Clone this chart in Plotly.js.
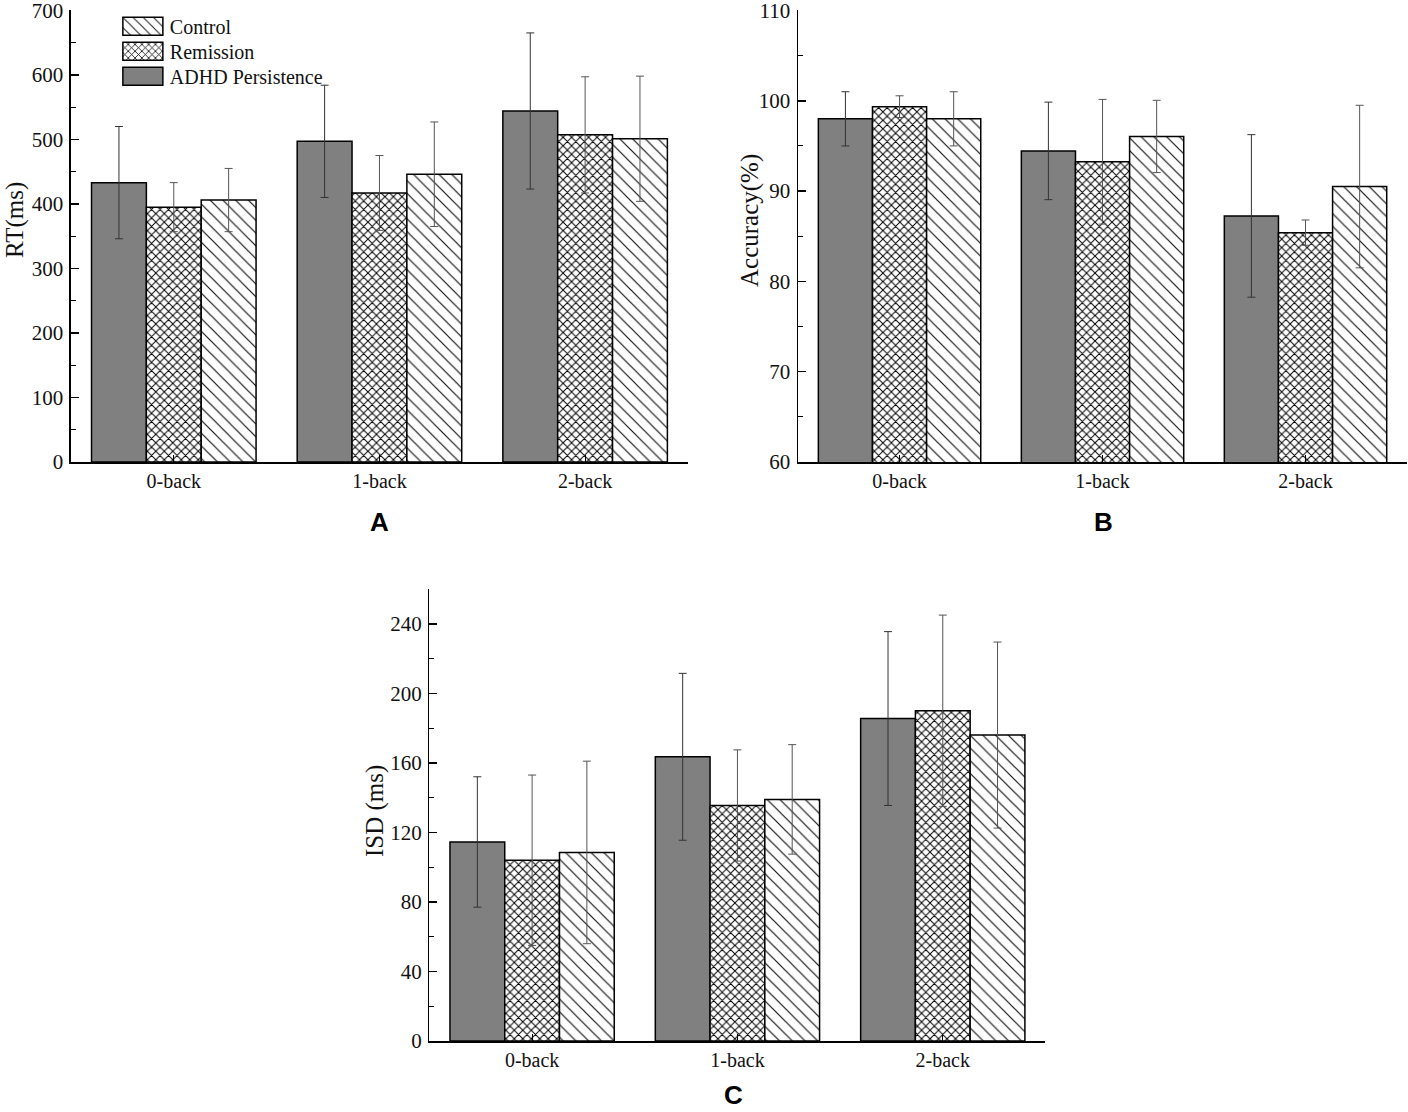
<!DOCTYPE html>
<html>
<head>
<meta charset="utf-8">
<script src="https://cdn.plot.ly/plotly-3.0.1.min.js"></script>
<style>
  html, body { margin: 0; padding: 0; background: #fff; }
  #chart { width: 1408px; height: 1112px; }
</style>
</head>
<body>
<div id="chart"></div>
<script>
var categories = ['0-back', '1-back', '2-back'];
var groupNames = ['ADHD Persistence', 'Remission', 'Control'];

// A: reaction time (ms)
var rtAdhd = [433, 497, 544];
var rtAdhdErr = [87, 87, 121];
var rtRem = [395, 417, 507];
var rtRemErr = [38, 58, 90];
var rtCtrl = [406, 446, 501];
var rtCtrlErr = [49, 81, 97];

// B: accuracy (%)
var accAdhd = [98.0, 94.45, 87.25];
var accAdhdErr = [3.0, 5.4, 9.0];
var accRem = [99.35, 93.25, 85.4];
var accRemErr = [1.2, 6.9, 1.4];
var accCtrl = [98.0, 96.05, 90.5];
var accCtrlErr = [3.0, 4.0, 9.0];

// C: ISD (ms)
var isdAdhd = [114.5, 163.5, 185.5];
var isdAdhdErr = [37.5, 48, 50];
var isdRem = [104, 135.5, 190];
var isdRemErr = [49, 32, 55];
var isdCtrl = [108.5, 139, 176];
var isdCtrlErr = [52.5, 31.5, 53.5];

var serif = "'Times New Roman', 'Liberation Serif', serif";

var looks = [
  { color: '#808080', pattern: { shape: '' }, err: '#333' },
  { color: '#ffffff', pattern: { shape: 'x', fgcolor: '#000', bgcolor: '#fff', size: 6, solidity: 0.3 }, err: '#555' },
  { color: '#ffffff', pattern: { shape: '\\', fgcolor: '#111', bgcolor: '#fff', size: 9, solidity: 0.13 }, err: '#555' }
];

function bars(values, errs, i, xa, ya, legend) {
  return {
    type: 'bar',
    name: groupNames[i],
    x: categories,
    y: values,
    xaxis: xa,
    yaxis: ya,
    showlegend: legend,
    legendgroup: groupNames[i],
    marker: {
      color: looks[i].color,
      pattern: looks[i].pattern,
      line: { color: '#000', width: 1.5 }
    },
    error_y: { type: 'data', array: errs, visible: true, color: looks[i].err, thickness: 1, width: 4 },
    hoverinfo: 'x+y'
  };
}

var data = [
  bars(rtAdhd, rtAdhdErr, 0, 'x', 'y', true),
  bars(rtRem, rtRemErr, 1, 'x', 'y', true),
  bars(rtCtrl, rtCtrlErr, 2, 'x', 'y', true),
  bars(accAdhd, accAdhdErr, 0, 'x2', 'y2', false),
  bars(accRem, accRemErr, 1, 'x2', 'y2', false),
  bars(accCtrl, accCtrlErr, 2, 'x2', 'y2', false),
  bars(isdAdhd, isdAdhdErr, 0, 'x3', 'y3', false),
  bars(isdRem, isdRemErr, 1, 'x3', 'y3', false),
  bars(isdCtrl, isdCtrlErr, 2, 'x3', 'y3', false)
];

function xAxis(dom, yname) {
  return {
    domain: dom, anchor: yname, type: 'category',
    range: [-0.5, 2.5],
    showline: true, linecolor: '#000', linewidth: 1.5,
    ticks: 'inside', ticklen: 7, tickcolor: '#000', tickwidth: 1,
    showgrid: false, zeroline: false,
    tickfont: { family: serif, size: 20, color: '#111' }
  };
}
// extra overlay axis for the short ticks between groups
function boundAxis(over, yname) {
  return {
    overlaying: over, anchor: yname, range: [-0.5, 2.5],
    tickvals: [0.5, 1.5], ticks: 'inside', ticklen: 4, tickcolor: '#000', tickwidth: 1,
    showticklabels: false, showline: false, showgrid: false, zeroline: false
  };
}
function yAxis(dom, xname, rng, step) {
  return {
    domain: dom, anchor: xname, range: rng, dtick: step,
    showline: true, linecolor: '#000', linewidth: 1.5,
    ticks: 'inside', ticklen: 8, tickcolor: '#000', tickwidth: 1.5,
    minor: { dtick: step / 2, ticks: 'inside', ticklen: 5, tickcolor: '#000', tickwidth: 1, showgrid: false },
    showgrid: false, zeroline: false,
    ticklabeloverflow: 'allow',
    ticklabelstandoff: 2,
    tickfont: { family: serif, size: 21, color: '#111' }
  };
}

var layout = {
  width: 1408,
  height: 1112,
  margin: { l: 0, r: 0, t: 0, b: 0 },
  paper_bgcolor: '#fff',
  plot_bgcolor: 'rgba(0,0,0,0)',
  barmode: 'group',
  bargap: 0.2,
  bargroupgap: 0,
  xaxis: xAxis([0.0504, 0.4886], 'y'),
  yaxis: yAxis([0.5845, 0.991], 'x', [0, 700.5], 100),
  xaxis2: xAxis([0.5668, 0.9993], 'y2'),
  yaxis2: yAxis([0.5845, 0.991], 'x2', [60, 110.05], 10),
  xaxis3: xAxis([0.305, 0.7425], 'y3'),
  yaxis3: yAxis([0.0638, 0.4703], 'x3', [0, 260], 40),
  xaxis4: boundAxis('x', 'y'),
  xaxis5: boundAxis('x2', 'y2'),
  xaxis6: boundAxis('x3', 'y3'),
  legend: {
    x: 0.083, y: 0.994, xanchor: 'left', yanchor: 'top',
    traceorder: 'reversed',
    bgcolor: 'rgba(0,0,0,0)',
    font: { family: serif, size: 20, color: '#111' },
    itemwidth: 40,
    tracegroupgap: 0
  },
  annotations: [
    { text: 'RT(ms)', textangle: -90, xref: 'paper', yref: 'paper', x: 15 / 1408, y: 1 - 220 / 1112,
      xanchor: 'center', yanchor: 'middle', showarrow: false, font: { family: serif, size: 25, color: '#111' } },
    { text: 'Accuracy(%)', textangle: -90, xref: 'paper', yref: 'paper', x: 750 / 1408, y: 1 - 221 / 1112,
      xanchor: 'center', yanchor: 'middle', showarrow: false, font: { family: serif, size: 25, color: '#111' } },
    { text: 'ISD (ms)', textangle: -90, xref: 'paper', yref: 'paper', x: 375 / 1408, y: 1 - 811 / 1112,
      xanchor: 'center', yanchor: 'middle', showarrow: false, font: { family: serif, size: 25, color: '#111' } },
    { text: '<b>A</b>', xref: 'paper', yref: 'paper', x: 379 / 1408, y: 1 - 522 / 1112,
      xanchor: 'center', yanchor: 'middle', showarrow: false, font: { family: 'Liberation Sans, Arial, sans-serif', size: 26, color: '#000' } },
    { text: '<b>B</b>', xref: 'paper', yref: 'paper', x: 1103 / 1408, y: 1 - 522 / 1112,
      xanchor: 'center', yanchor: 'middle', showarrow: false, font: { family: 'Liberation Sans, Arial, sans-serif', size: 26, color: '#000' } },
    { text: '<b>C</b>', xref: 'paper', yref: 'paper', x: 733 / 1408, y: 1 - 1095 / 1112,
      xanchor: 'center', yanchor: 'middle', showarrow: false, font: { family: 'Liberation Sans, Arial, sans-serif', size: 26, color: '#000' } }
  ]
};

Plotly.newPlot('chart', data, layout, { staticPlot: true }).then(function (gd) {
  // widen the legend swatches to the boxes of the original
  gd.querySelectorAll('.legend .legendpoints path').forEach(function (p) {
    p.setAttribute('d', 'M-19,9H21V-9H-19Z');
    p.style.strokeWidth = '1.5px';
    p.style.stroke = '#000';
  });
  // tighter row spacing, as in the original legend
  var rows = gd.querySelectorAll('.legend .traces');
  var y0 = null;
  rows.forEach(function (t, i) {
    var m = /translate\(([-\d.]+),\s*([-\d.]+)\)/.exec(t.getAttribute('transform') || '');
    if (!m) return;
    if (y0 === null) y0 = parseFloat(m[2]);
    t.setAttribute('transform', 'translate(' + m[1] + ',' + (y0 + i * 25) + ')');
  });
  gd.querySelectorAll('.legend .traces text').forEach(function (t) {
    t.setAttribute('x', parseFloat(t.getAttribute('x') || 0) + 3);
  });
});
</script>
</body>
</html>
